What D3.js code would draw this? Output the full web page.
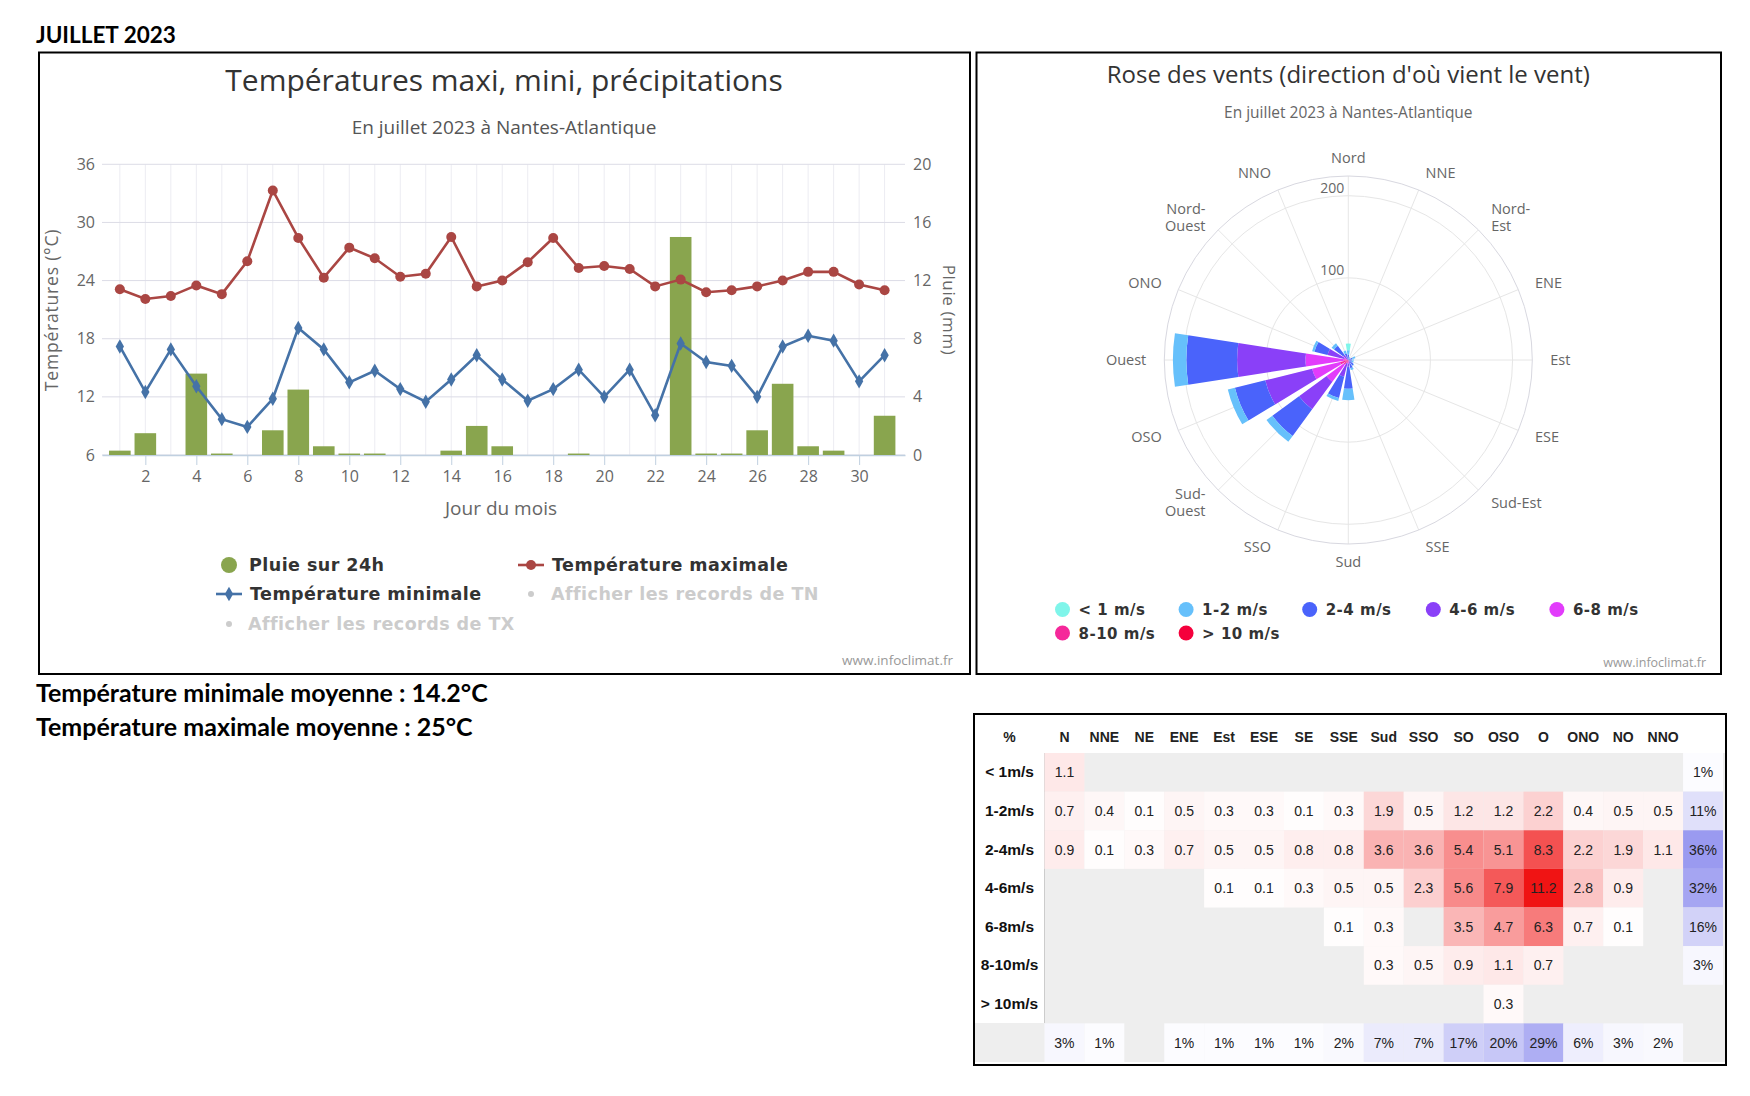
<!DOCTYPE html>
<html>
<head>
<meta charset="utf-8">
<script src="https://cdn.jsdelivr.net/npm/d3@7"></script>
<style>
body { margin: 0; background: #fff; }
</style>
</head>
<body>
<div id="chart"></div>
<script>
// --- daily data, juillet 2023, Nantes-Atlantique ---
var days = [1,2,3,4,5,6,7,8,9,10,11,12,13,14,15,16,17,18,19,20,21,22,23,24,25,26,27,28,29,30,31];
var tmax = [23.1,22.1,22.4,23.5,22.6,26.0,33.3,28.4,24.3,27.4,26.3,24.4,24.7,28.5,23.4,24.0,
            25.9,28.4,25.3,25.5,25.2,23.4,24.1,22.8,23.0,23.4,24.0,24.9,24.9,23.6,23.0];
var tmin = [17.2,12.5,16.9,13.1,9.7,8.9,11.8,19.1,16.9,13.5,14.7,12.8,11.5,13.8,16.3,13.8,
            11.6,12.8,14.8,12.0,14.8,10.1,17.5,15.6,15.2,12.0,17.2,18.3,17.8,13.6,16.3];
var rain = [0.3,1.5,0,5.6,0.1,0,1.7,4.5,0.6,0.1,0.1,0,0,0.3,2.0,0.6,
            0,0,0.1,0,0,0,15.0,0.1,0.1,1.7,4.9,0.6,0.3,0,2.7];
var tempTicks = [6,12,18,24,30,36];
var rainTicks = [0,4,8,12,16,20];
var dayTicks = [2,4,6,8,10,12,14,16,18,20,22,24,26,28,30];

// --- wind (% of observations) ---
var directions = ["N","NNE","NE","ENE","Est","ESE","SE","SSE","Sud","SSO","SO","OSO","O","ONO","NO","NNO"];
var roseLabels = ["Nord","NNE","Nord-|Est","ENE","Est","ESE","Sud-Est","SSE",
                  "Sud","SSO","Sud-|Ouest","OSO","Ouest","ONO","Nord-|Ouest","NNO"];
var speedLabels = ["< 1m/s","1-2m/s","2-4m/s","4-6m/s","6-8m/s","8-10m/s","> 10m/s"];
var speedLegend = ["< 1 m/s","1-2 m/s","2-4 m/s","4-6 m/s","6-8 m/s","8-10 m/s","> 10 m/s"];
var wLt1  = [1.1,null,null,null,null,null,null,null,null,null,null,null,null,null,null,null];
var w1_2  = [0.7,0.4,0.1,0.5,0.3,0.3,0.1,0.3,1.9,0.5,1.2,1.2,2.2,0.4,0.5,0.5];
var w2_4  = [0.9,0.1,0.3,0.7,0.5,0.5,0.8,0.8,3.6,3.6,5.4,5.1,8.3,2.2,1.9,1.1];
var w4_6  = [null,null,null,null,0.1,0.1,0.3,0.5,0.5,2.3,5.6,7.9,11.2,2.8,0.9,null];
var w6_8  = [null,null,null,null,null,null,null,0.1,0.3,null,3.5,4.7,6.3,0.7,0.1,null];
var w8_10 = [null,null,null,null,null,null,null,null,0.3,0.5,0.9,1.1,0.7,null,null,null];
var wGt10 = [null,null,null,null,null,null,null,null,null,null,null,0.3,null,null,null,null];
var speedTotals = [1,11,36,32,16,3,null];
var dirTotals = [3,1,null,1,1,1,1,2,7,7,17,20,29,6,3,2];
var NB_OBS = 744; // 31 jours x 24 h
var roseTicks = [100,200];

function init() {
    var svg = d3.select("#chart").append("svg")
        .attr("width", 1750).attr("height", 1096)
        .style("font-family", "'Open Sans', sans-serif");

    svg.append("text").attr("x", 36).attr("y", 43)
        .style("font-family", "Lato").style("font-weight", "bold").style("font-size", "22.5px")
        .text("JUILLET 2023");
    svg.append("text").attr("x", 36).attr("y", 702)
        .style("font-family", "Lato").style("font-weight", "bold").style("font-size", "25px")
        .text("Température minimale moyenne : 14.2°C");
    svg.append("text").attr("x", 36).attr("y", 736)
        .style("font-family", "Lato").style("font-weight", "bold").style("font-size", "25px")
        .text("Température maximale moyenne : 25°C");

    // frames
    [[39, 52.5, 931, 621.5], [976.5, 52.5, 744.5, 621.5], [974, 714, 752, 351]].forEach(function(b) {
        svg.append("rect").attr("x", b[0]).attr("y", b[1]).attr("width", b[2]).attr("height", b[3])
            .attr("fill", "none").attr("stroke", "#000").attr("stroke-width", 2);
    });

    tempChart(svg);
    windRose(svg);
    windTable(svg);
}

function tempChart(svg) {
    var left = 102, right = 905, top = 164.3, bottom = 455;
    var x = d3.scaleLinear().domain([0.3, 31.8]).range([left, right]);
    var yT = d3.scaleLinear().domain([6, 36]).range([bottom, top]);
    var yP = d3.scaleLinear().domain([0, 20]).range([bottom, top]);
    var g = svg.append("g");

    g.append("text").attr("x", 504).attr("y", 91).attr("text-anchor", "middle")
        .style("font-size", "30px").attr("fill", "#333")
        .text("Températures maxi, mini, précipitations");
    g.append("text").attr("x", 504).attr("y", 134).attr("text-anchor", "middle")
        .style("font-size", "19px").attr("fill", "#555")
        .text("En juillet 2023 à Nantes-Atlantique");

    g.selectAll(".vgrid").data(days).join("line")
        .attr("x1", function(d) { return x(d); }).attr("x2", function(d) { return x(d); })
        .attr("y1", top).attr("y2", bottom)
        .attr("stroke", "#ececf2").attr("stroke-width", 1);
    g.selectAll(".hgrid").data(tempTicks).join("line")
        .attr("x1", left).attr("x2", right)
        .attr("y1", function(d) { return yT(d); }).attr("y2", function(d) { return yT(d); })
        .attr("stroke", "#dcdce6").attr("stroke-width", 1);

    var yAxisL = g.append("g").attr("transform", "translate(" + left + ",0)")
        .call(d3.axisLeft(yT).tickValues(tempTicks).tickSize(0).tickPadding(7));
    var yAxisR = g.append("g").attr("transform", "translate(" + right + ",0)")
        .call(d3.axisRight(yP).tickValues(rainTicks).tickSize(0).tickPadding(8));
    var xAxis = g.append("g").attr("transform", "translate(0," + bottom + ")")
        .call(d3.axisBottom(x).tickValues(dayTicks).tickSize(10).tickSizeOuter(0).tickPadding(6));
    [yAxisL, yAxisR].forEach(function(a) { a.select(".domain").remove(); });
    [yAxisL, yAxisR, xAxis].forEach(function(a) {
        a.attr("font-family", null).attr("font-size", null);
        a.selectAll("text").style("font-size", "16px").attr("fill", "#666");
        a.selectAll("line").attr("stroke", "#c0d0e0");
    });
    xAxis.select(".domain").attr("stroke", "#c0d0e0").attr("stroke-width", 1.5);

    g.append("text").attr("transform", "translate(58,310) rotate(-90)")
        .attr("text-anchor", "middle").style("font-size", "17.5px").attr("fill", "#666")
        .style("letter-spacing", "0.8px").text("Températures (°C)");
    g.append("text").attr("transform", "translate(943,310) rotate(90)")
        .attr("text-anchor", "middle").style("font-size", "17px").attr("fill", "#666")
        .style("letter-spacing", "0.6px").text("Pluie (mm)");
    g.append("text").attr("x", 501).attr("y", 515).attr("text-anchor", "middle")
        .style("font-size", "19px").attr("fill", "#666").text("Jour du mois");

    var bw = 21.6;
    g.selectAll(".rain").data(days.filter(function(d, i) { return rain[i] > 0; })).join("rect")
        .attr("x", function(d) { return x(d) - bw / 2; })
        .attr("y", function(d) { return yP(rain[d - 1]); })
        .attr("width", bw)
        .attr("height", function(d) { return bottom - yP(rain[d - 1]); })
        .attr("fill", "#89a54e");

    var lineMax = d3.line().x(function(d) { return x(d); }).y(function(d) { return yT(tmax[d - 1]); });
    var lineMin = d3.line().x(function(d) { return x(d); }).y(function(d) { return yT(tmin[d - 1]); });
    g.append("path").datum(days).attr("d", lineMax)
        .attr("fill", "none").attr("stroke", "#aa4643").attr("stroke-width", 2.6);
    g.append("path").datum(days).attr("d", lineMin)
        .attr("fill", "none").attr("stroke", "#4572a7").attr("stroke-width", 2.6);
    g.selectAll(".mmax").data(days).join("circle")
        .attr("cx", function(d) { return x(d); }).attr("cy", function(d) { return yT(tmax[d - 1]); })
        .attr("r", 5).attr("fill", "#aa4643");
    var diamond = d3.symbol().type(d3.symbolDiamond).size(60);
    g.selectAll(".mmin").data(days).join("path")
        .attr("transform", function(d) { return "translate(" + x(d) + "," + yT(tmin[d - 1]) + ")"; })
        .attr("d", diamond).attr("fill", "#4572a7");

    // legend
    var lg = g.append("g").style("font-family", "'DejaVu Sans'").style("font-weight", "bold")
        .style("font-size", "17.5px").style("letter-spacing", "0.45px");
    lg.append("circle").attr("cx", 229).attr("cy", 565).attr("r", 8).attr("fill", "#89a54e");
    lg.append("text").attr("x", 249).attr("y", 571).attr("fill", "#333").text("Pluie sur 24h");
    lg.append("line").attr("x1", 518).attr("x2", 544).attr("y1", 565).attr("y2", 565)
        .attr("stroke", "#aa4643").attr("stroke-width", 2.6);
    lg.append("circle").attr("cx", 531).attr("cy", 565).attr("r", 5).attr("fill", "#aa4643");
    lg.append("text").attr("x", 552).attr("y", 571).attr("fill", "#333").text("Température maximale");
    lg.append("line").attr("x1", 216).attr("x2", 242).attr("y1", 594).attr("y2", 594)
        .attr("stroke", "#4572a7").attr("stroke-width", 2.6);
    lg.append("path").attr("transform", "translate(229,594)").attr("d", diamond).attr("fill", "#4572a7");
    lg.append("text").attr("x", 250).attr("y", 600).attr("fill", "#333").text("Température minimale");
    lg.append("circle").attr("cx", 531).attr("cy", 594).attr("r", 3).attr("fill", "#cccccc");
    lg.append("text").attr("x", 551).attr("y", 600).attr("fill", "#cccccc").text("Afficher les records de TN");
    lg.append("circle").attr("cx", 229).attr("cy", 624).attr("r", 3).attr("fill", "#cccccc");
    lg.append("text").attr("x", 248).attr("y", 630).attr("fill", "#cccccc").text("Afficher les records de TX");

    g.append("text").attr("x", 953).attr("y", 665).attr("text-anchor", "end")
        .style("font-size", "13.5px").attr("fill", "#999").text("www.infoclimat.fr");
}

function windRose(svg) {
    var cx = 1348.3, cy = 360, outer = 184;
    var rows = [wLt1, w1_2, w2_4, w4_6, w6_8, w8_10, wGt10];
    var colors = ["#7ff5ea", "#66c0fb", "#4a63fb", "#8a40f8", "#e23cfb", "#f5289a", "#f5003c"];
    var r = d3.scaleLinear().domain([0, 224]).range([0, outer]);
    var ang = d3.scaleLinear().domain([0, 16]).range([0, 2 * Math.PI]);
    var half = 8.75 * Math.PI / 180;

    svg.append("text").attr("x", cx).attr("y", 83).attr("text-anchor", "middle")
        .style("font-size", "24px").attr("fill", "#333")
        .text("Rose des vents (direction d'où vient le vent)");
    svg.append("text").attr("x", cx).attr("y", 118).attr("text-anchor", "middle")
        .style("font-size", "15.5px").attr("fill", "#666")
        .text("En juillet 2023 à Nantes-Atlantique");

    var g = svg.append("g").attr("transform", "translate(" + cx + "," + cy + ")");
    g.selectAll(".spoke").data(directions).join("line")
        .attr("x1", 0).attr("y1", 0)
        .attr("x2", function(d, i) { return outer * Math.sin(ang(i)); })
        .attr("y2", function(d, i) { return -outer * Math.cos(ang(i)); })
        .attr("stroke", "#e6e6e6").attr("stroke-width", 1);
    g.selectAll(".ring").data(roseTicks).join("circle")
        .attr("r", function(d) { return r(d); })
        .attr("fill", "none").attr("stroke", "#e6e6e6");
    g.append("circle").attr("r", outer).attr("fill", "none").attr("stroke", "#d8d8e0");

    // stacked wedges, strongest wind at the centre
    var arc = d3.arc();
    directions.forEach(function(dir, i) {
        var cum = 0;
        for (var s = rows.length - 1; s >= 0; s--) {
            var v = rows[s][i];
            if (!v) continue;
            var n = v * NB_OBS / 100;
            g.append("path")
                .attr("d", arc({ innerRadius: r(cum), outerRadius: r(cum + n),
                                 startAngle: ang(i) - half, endAngle: ang(i) + half }))
                .attr("fill", colors[s]);
            cum += n;
        }
    });

    g.selectAll(".rtick").data(roseTicks).join("text")
        .attr("x", -4).attr("y", function(d) { return -r(d) - 3; })
        .attr("text-anchor", "end").style("font-size", "14px").attr("fill", "#666")
        .text(function(d) { return d; });

    roseLabels.forEach(function(lab, i) {
        var a = ang(i), lr = 202;
        var px = lr * Math.sin(a), py = -lr * Math.cos(a);
        var anchor = Math.abs(Math.sin(a)) < 0.1 ? "middle" : (Math.sin(a) > 0 ? "start" : "end");
        var lines = lab.split("|");
        var t = g.append("text").attr("text-anchor", anchor)
            .style("font-size", "14.5px").attr("fill", "#666");
        lines.forEach(function(l, k) {
            t.append("tspan").attr("x", px)
                .attr("y", py + 5 + (k - (lines.length - 1) / 2) * 17)
                .text(l);
        });
    });

    var lg = svg.append("g").style("font-family", "'DejaVu Sans'").style("font-weight", "bold")
        .style("font-size", "15px").style("letter-spacing", "0.5px");
    speedLegend.forEach(function(l, s) {
        var col = s % 5, row = Math.floor(s / 5);
        var lx = 1062.5 + col * 123.6, ly = 609.5 + row * 23.5;
        lg.append("circle").attr("cx", lx).attr("cy", ly).attr("r", 7.5).attr("fill", colors[s]);
        lg.append("text").attr("x", lx + 16).attr("y", ly + 5.5).attr("fill", "#333").text(l);
    });

    svg.append("text").attr("x", 1706).attr("y", 667).attr("text-anchor", "end")
        .style("font-size", "12.5px").attr("fill", "#999").text("www.infoclimat.fr");
}

function windTable(svg) {
    var rows = [wLt1, w1_2, w2_4, w4_6, w6_8, w8_10, wGt10];
    var cols = directions.concat(["tot"]);
    var x = d3.scaleBand().domain(cols).range([1044.5, 1723]);
    var rowKeys = speedLabels.concat(["tot"]);
    var y = d3.scaleBand().domain(rowKeys).range([753, 1062]);
    var red = d3.scaleLinear().domain([0, 11.2]).range(["#ffffff", "#f01414"]);
    var blue = d3.scaleLinear().domain([0, 36]).range(["#ffffff", "#9a9af0"]);
    var g = svg.append("g").style("font-family", "'Liberation Sans', Arial, sans-serif");

    g.append("rect").attr("x", 975).attr("y", 753).attr("width", 750).attr("height", 309)
        .attr("fill", "#eeeeee");
    g.append("rect").attr("x", 975).attr("y", 753).attr("width", 69.5).attr("height", 270)
        .attr("fill", "#ffffff");
    g.append("line").attr("x1", 1044.5).attr("x2", 1044.5).attr("y1", 753).attr("y2", 1023)
        .attr("stroke", "#cccccc");

    var cells = [];
    rows.forEach(function(row, s) {
        row.forEach(function(v, i) {
            if (v != null) cells.push({ c: directions[i], r: speedLabels[s], v: v, t: v.toFixed(1), fill: red(v) });
        });
        if (speedTotals[s] != null)
            cells.push({ c: "tot", r: speedLabels[s], v: speedTotals[s], t: speedTotals[s] + "%", fill: blue(speedTotals[s]) });
    });
    dirTotals.forEach(function(v, i) {
        if (v != null) cells.push({ c: directions[i], r: "tot", v: v, t: v + "%", fill: blue(v) });
    });

    g.selectAll(".cell").data(cells).join("rect")
        .attr("x", function(d) { return x(d.c); }).attr("y", function(d) { return y(d.r); })
        .attr("width", x.bandwidth()).attr("height", y.bandwidth())
        .attr("fill", function(d) { return d.fill; });
    g.selectAll(".val").data(cells).join("text")
        .attr("x", function(d) { return x(d.c) + x.bandwidth() / 2; })
        .attr("y", function(d) { return y(d.r) + y.bandwidth() / 2 + 5; })
        .attr("text-anchor", "middle").style("font-size", "14px").attr("fill", "#222")
        .text(function(d) { return d.t; });

    g.selectAll(".hdr").data(directions).join("text")
        .attr("x", function(d) { return x(d) + x.bandwidth() / 2; }).attr("y", 742)
        .attr("text-anchor", "middle").style("font-size", "14px").style("font-weight", "bold")
        .attr("fill", "#222").text(function(d) { return d; });
    g.append("text").attr("x", 1009.5).attr("y", 742).attr("text-anchor", "middle")
        .style("font-size", "14px").style("font-weight", "bold").attr("fill", "#222").text("%");
    g.selectAll(".rlab").data(speedLabels).join("text")
        .attr("x", 1009.5).attr("y", function(d) { return y(d) + y.bandwidth() / 2 + 5; })
        .attr("text-anchor", "middle").style("font-size", "15.5px").style("font-weight", "bold")
        .attr("fill", "#111").text(function(d) { return d; });
}

window.onload = init;
</script>
</body>
</html>
